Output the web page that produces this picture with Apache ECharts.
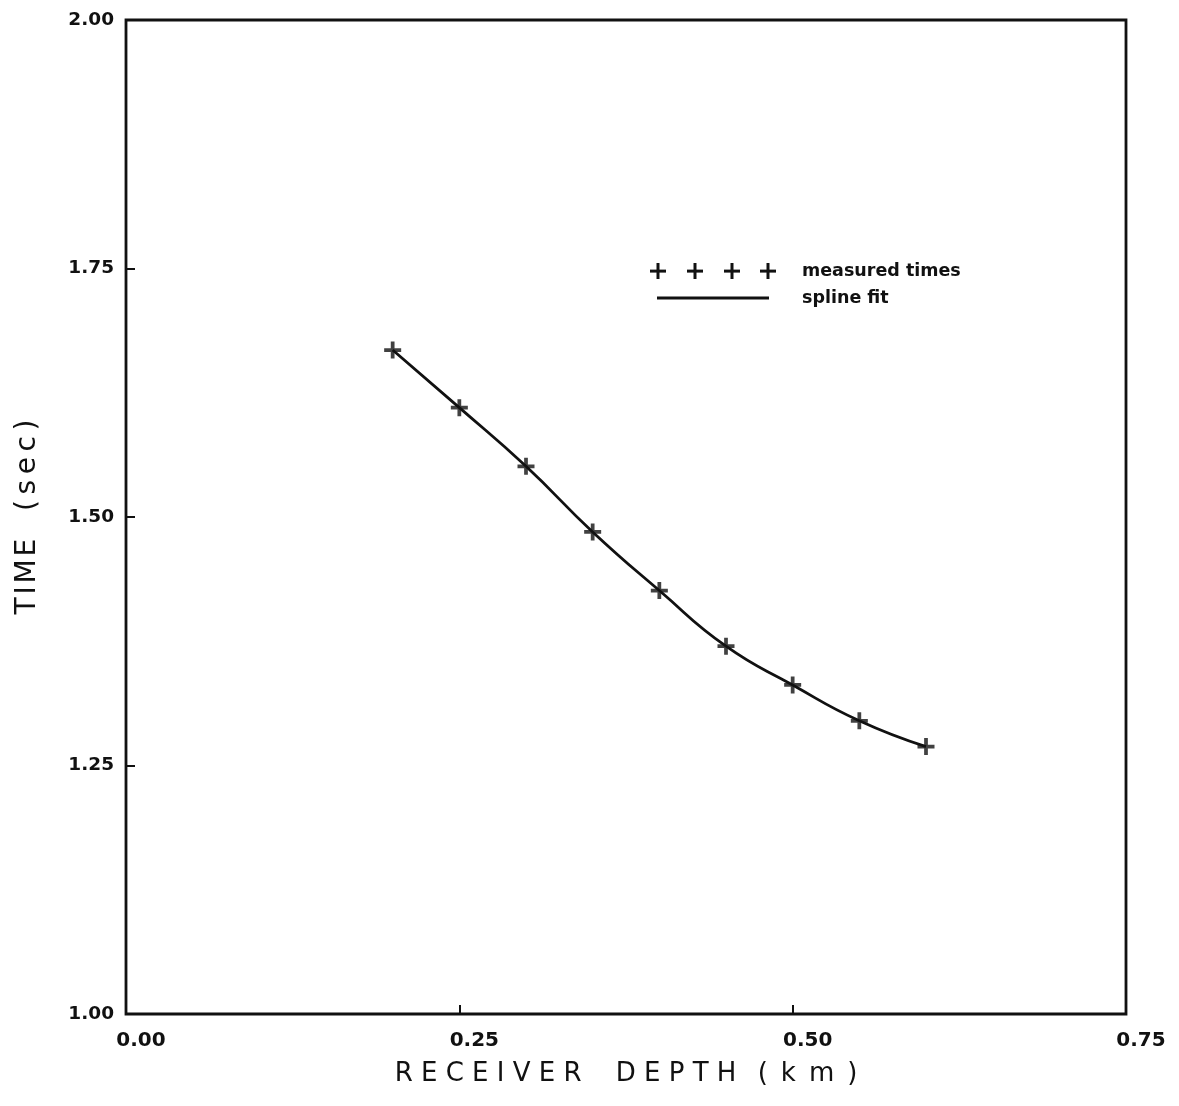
<!DOCTYPE html>
<html>
<head>
<meta charset="utf-8">
<script src="https://cdn.jsdelivr.net/npm/echarts@6/dist/echarts.min.js"></script>
<style>html,body{margin:0;padding:0;background:#fff;}#c{width:1179px;height:1106px;}</style>
</head>
<body>
<div id="c"></div>
<script>
const depths = [0.20, 0.25, 0.30, 0.35, 0.40, 0.45, 0.50, 0.55, 0.60];
const times = [1.668, 1.610, 1.551, 1.485, 1.426, 1.370, 1.331, 1.295, 1.269];
const xTicks = [0.00, 0.25, 0.50, 0.75];
const yTicks = [1.00, 1.25, 1.50, 1.75, 2.00];
const xTitleWords = ['RECEIVER', 'DEPTH', '(km)'];
const yTitleWords = ['TIME', '(sec)'];
const legendLabels = ['measured times', 'spline fit'];

const xTitle = xTitleWords[0].split('').join(' ') + '\u2003 ' + xTitleWords[1].split('').join(' ') + '\u2002 ' + xTitleWords[2].split('').join('\u2002');
const yTitle = yTitleWords[0].split('').join('\u200A') + '\u2003' + yTitleWords[1].split('').join('\u2009');
const pts = depths.map((d, i) => [d, times[i]]);
const plus = 'path://M0,3.9L3.9,3.9L3.9,0L6.1,0L6.1,3.9L10,3.9L10,6.1L6.1,6.1L6.1,10L3.9,10L3.9,6.1L0,6.1Z';
const ink = '#111';

const chart = echarts.init(document.getElementById('c'));
const legendGraphics = [];
[658, 695, 732, 768].forEach(x => {
  legendGraphics.push({type: 'group', x: x - 8, y: 263, children: [
    {type: 'rect', shape: {x: 0, y: 6.6, width: 16, height: 3}, style: {fill: ink}},
    {type: 'rect', shape: {x: 6.5, y: 0, width: 3, height: 16}, style: {fill: ink}}
  ]});
});
legendGraphics.push({type: 'line', shape: {x1: 657, y1: 298, x2: 769, y2: 298}, style: {stroke: ink, lineWidth: 2.8}});
legendGraphics.push({type: 'text', x: 802, y: 271, style: {text: legendLabels[0], font: 'bold 17.5px "DejaVu Sans"', fill: ink, textVerticalAlign: 'middle', verticalAlign: 'middle'}});
legendGraphics.push({type: 'text', x: 802, y: 298, style: {text: legendLabels[1], font: 'bold 17.5px "DejaVu Sans"', fill: ink, textVerticalAlign: 'middle', verticalAlign: 'middle'}});

chart.setOption({
  animation: false,
  backgroundColor: '#fff',
  grid: {left: 126, right: 53, top: 20, bottom: 92, show: true, borderColor: ink, borderWidth: 2.8, backgroundColor: 'transparent'},
  xAxis: {
    type: 'value', min: 0, max: 0.75, interval: 0.25,
    axisLine: {show: false},
    axisTick: {show: true, inside: true, length: 9, lineStyle: {color: ink, width: 2}},
    splitLine: {show: false},
    axisLabel: {margin: 17, padding: [0, 0, 0, 30], formatter: v => v.toFixed(2), showMinLabel: true, showMaxLabel: true,
      fontFamily: 'DejaVu Sans', fontWeight: 'bold', fontSize: 20, color: ink},
    name: xTitle, nameLocation: 'middle', nameGap: 47,
    nameTextStyle: {fontFamily: 'DejaVu Sans', fontSize: 26, color: ink}
  },
  yAxis: {
    type: 'value', min: 1.0, max: 2.0, interval: 0.25,
    axisLine: {show: false},
    axisTick: {show: true, inside: true, length: 9, lineStyle: {color: ink, width: 2}},
    splitLine: {show: false},
    axisLabel: {margin: 12, formatter: v => v.toFixed(2), fontFamily: 'DejaVu Sans', fontWeight: 'bold', fontSize: 18.5, color: ink},
    name: yTitle, nameLocation: 'middle', nameGap: 84,
    nameTextStyle: {fontFamily: 'DejaVu Sans', fontSize: 28, color: ink}
  },
  graphic: legendGraphics,
  series: [
    {type: 'line', data: pts, smooth: 0.5, showSymbol: false, lineStyle: {color: ink, width: 2.8}, z: 2},
    {type: 'scatter', data: pts, symbol: plus, symbolSize: 17, itemStyle: {color: ink}, z: 3}
  ]
});
</script>
</body>
</html>
